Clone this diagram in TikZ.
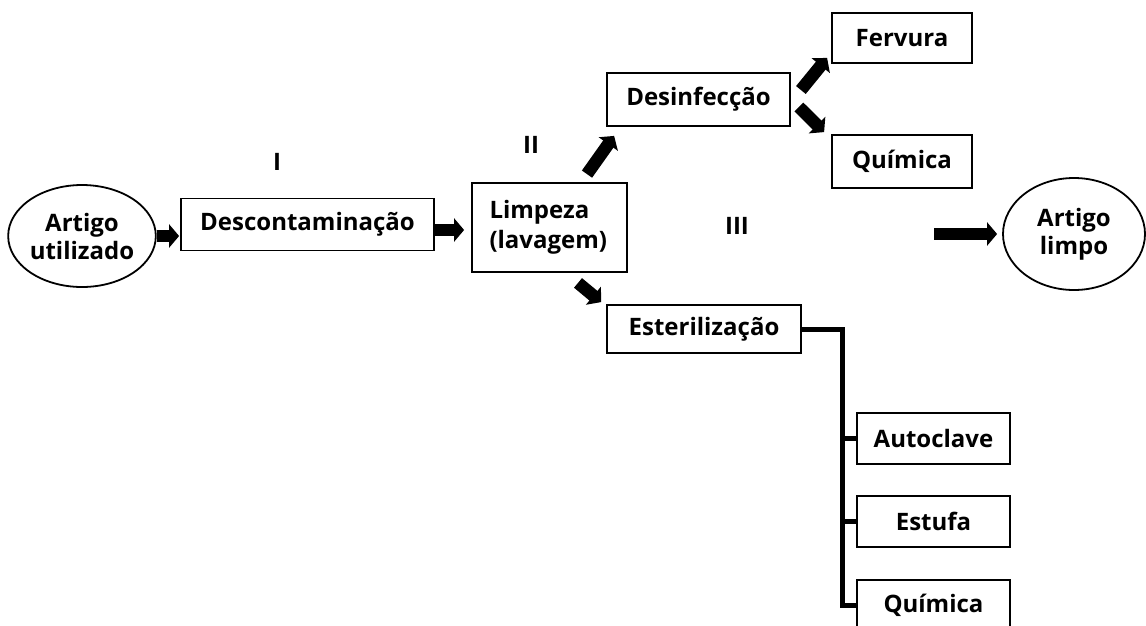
\documentclass[tikz,border=0pt]{standalone}
\usepackage{fontspec}
\setmainfont{Open Sans}
\usetikzlibrary{arrows.meta,calc,shapes.geometric}
\begin{document}
\begin{tikzpicture}[x=1pt,y=-1pt,
  box/.style={draw, line width=1.8pt, inner sep=0pt, font=\bfseries\fontsize{24}{30}\selectfont},
  oval/.style={draw, ellipse, line width=1.8pt, inner sep=0pt, align=center, font=\bfseries\fontsize{24}{28}\selectfont},
  lbl/.style={font=\bfseries\fontsize{24}{28}\selectfont},
  blk/.style={line width=12.5pt, -{Triangle[length=10pt,width=23pt]}},
  tree/.style={line width=5pt, line join=miter}]
\useasboundingbox (0,0) rectangle (1146,625);
\node[oval, minimum width=145pt, minimum height=102pt] (art) at (82,236) {Artigo\\utilizado};
\node[box, minimum width=253pt, minimum height=52pt] (desc) at (307.5,224.5) {Descontaminação};
\node[box, minimum width=155pt, minimum height=89pt, align=left, text width=120pt] (limp) at (549.5,227.5) {Limpeza\\(lavagem)};
\node[box, minimum width=183pt, minimum height=53pt] (desin) at (698.5,99.5) {Desinfecção};
\node[box, minimum width=194pt, minimum height=48pt] (est) at (704,329) {Esterilização};
\node[box, minimum width=140pt, minimum height=50pt] (ferv) at (902,38) {Fervura};
\node[box, minimum width=140pt, minimum height=53pt] (quim1) at (902,161.5) {Química};
\node[box, minimum width=153pt, minimum height=51pt] (auto) at (933.5,438.5) {Autoclave};
\node[box, minimum width=153pt, minimum height=51pt] (estu) at (933.5,521.5) {Estufa};
\node[box, minimum width=153pt, minimum height=51pt] (quim2) at (933.5,605.5) {Química};
\node[oval, minimum width=142pt, minimum height=112pt] (limpo) at (1074,234) {Artigo\\limpo};
\node[lbl] (l1) at (277,162) {I};
\node[lbl] (l2) at (531,145) {II};
\node[lbl] (l3) at (737,226) {III};
\coordinate (iiistart) at ($(limpo.west)+(-68,0)$);
% arrows
\draw[blk] (art.east) -- ([xshift=-1pt]art.east -| desc.west);
\draw[blk] ([shift={(-1,5.5)}]desc.east) -- ([shift={(-7,5.5)}]desc.east -| limp.west);
\draw[blk] ([shift={(37.5,-8)}]limp.north) -- ([shift={(8,9)}]desin.south west);
\draw[blk] ([shift={(28.5,10)}]limp.south) -- ([shift={(-5,-2)}]est.north west);
\draw[blk] ([shift={(10,-9.5)}]desin.east) -- ([shift={(-4,-6)}]ferv.south west);
\draw[blk] ([shift={(8,7.5)}]desin.east) -- ([shift={(-7,-2)}]quim1.north west);
\draw[blk] (iiistart) -- ([xshift=-5pt]limpo.west);
% tree
\draw[tree] ([xshift=-0.9pt]est.east) -| ([xshift=-14pt]quim2.west) -- (quim2.west);
\draw[tree] (auto.west) -- ++(-16,0);
\draw[tree] (estu.west) -- ++(-16,0);
\end{tikzpicture}
\end{document}
